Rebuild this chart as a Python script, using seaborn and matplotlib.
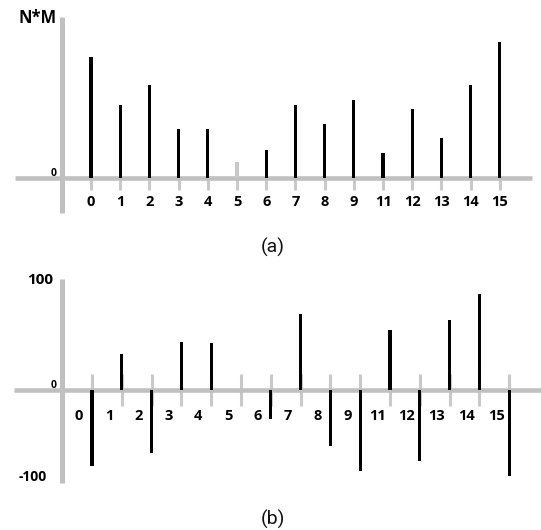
import matplotlib
matplotlib.use('Agg')
import matplotlib.pyplot as plt
import seaborn as sns
import pandas as pd

# ---- data ----
labels = ['0', '1', '2', '3', '4', '5', '6', '7', '8', '9', '11', '12', '13', '14', '15']
values_a = [121, 73, 93, 49, 49, 16, 28, 73, 54, 78, 25, 69, 40, 93, 136]
values_b = [-76, 36, -63, 48, 47, 0, -29, 76, -56, -81, 60, -71, 70, 96, -86]
faded_a = ['5']          # bar drawn in gray in panel (a)
ylabel_a = 'N*M'
yticks_b = [100, 0, -100]

sns.set_theme(style='white')
plt.rcParams['font.family'] = ['Open Sans', 'DejaVu Sans']
plt.rcParams['text.color'] = 'black'

W, H = 541, 530
fig = plt.figure(figsize=(W / 100, H / 100), dpi=100)
fig.patch.set_facecolor('white')

AXIS_GRAY = '#c0c0c0'
TICK_GRAY = '#c8c8c8'

# ---------- panel (a) ----------
axA = fig.add_axes([0, (H - 265) / H, 1, 265 / H])
dfa = pd.DataFrame({'label': labels, 'value': values_a})
pal_a = {l: (TICK_GRAY if l in faded_a else 'black') for l in labels}
sns.barplot(data=dfa, x='label', y='value', hue='label', order=labels,
            palette=pal_a, width=0.11, legend=False, errorbar=None,
            saturation=1, linewidth=0, zorder=3, ax=axA)
sa, x0a = 29.2, 91
axA.set_xlim(-x0a / sa, (W - x0a) / sa)
axA.set_ylim(178 - 265, 178)
axA.axis('off')
n = len(labels)
# short gray ticks under the axis
axA.vlines(range(n), -12, 0, color=TICK_GRAY, lw=2.2, zorder=1)
# axes lines
axA.plot([(15 - x0a) / sa, (532 - x0a) / sa], [0, 0], color=AXIS_GRAY, lw=3.3,
         solid_capstyle='butt', zorder=2)
xa_y = (62 - x0a) / sa
axA.plot([xa_y, xa_y], [178 - 17, 178 - 213], color=AXIS_GRAY, lw=3.6,
         solid_capstyle='butt', zorder=2)
for i, l in enumerate(labels):
    axA.text(i, -24, l, ha='center', va='center', fontsize=10.5,
             fontweight='bold', color='black')
axA.text((57 - x0a) / sa, 4, '0', ha='right', va='center', fontsize=7.5,
         fontweight='bold', color='black')
axA.text((57 - x0a) / sa, 178 - 18, ylabel_a, ha='right', va='center',
         fontsize=12, fontweight='bold', color='black')

# ---------- panel (b) ----------
axB = fig.add_axes([0, 0, 1, 265 / H])
dfb = pd.DataFrame({'label': labels, 'value': values_b})
sns.barplot(data=dfb, x='label', y='value', order=labels, color='black',
            width=0.11, errorbar=None, saturation=1, linewidth=0, zorder=3,
            ax=axB)
sb, x0b = 29.8, 92
axB.set_xlim(-x0b / sb, (W - x0b) / sb)
axB.set_ylim(390 - 530, 390 - 265)
axB.axis('off')
axB.vlines(range(n), -16, 16, color=TICK_GRAY, lw=2.2, zorder=1)
axB.plot([(14 - x0b) / sb, (W - x0b) / sb], [0, 0], color=AXIS_GRAY, lw=3.3,
         solid_capstyle='butt', zorder=2)
xb_y = (62 - x0b) / sb
axB.plot([xb_y, xb_y], [390 - 279, 390 - 483], color=AXIS_GRAY, lw=3.6,
         solid_capstyle='butt', zorder=2)
for i, l in enumerate(labels):
    axB.text(i - 0.43, -25.5, l, ha='center', va='center', fontsize=10.5,
             fontweight='bold', color='black')
tick_pos = {100: (53, 280.5, 11), 0: (57, 385.5, 7.5), -100: (47, 477, 10)}
for t in yticks_b:
    px, py, fs = tick_pos[t]
    axB.text((px - x0b) / sb, 390 - py, str(t), ha='right', va='center',
             fontsize=fs, fontweight='bold', color='black')

# captions
fig.text(273 / W, 1 - 247 / H, '(a)', ha='center', va='center', fontsize=14,
         fontweight='normal', color='#111111', family=['Roboto', 'DejaVu Sans'])
fig.text(273 / W, 1 - 519 / H, '(b)', ha='center', va='center', fontsize=14,
         fontweight='normal', color='#111111', family=['Roboto', 'DejaVu Sans'])

fig.savefig('out.png', dpi=100, facecolor='white')
